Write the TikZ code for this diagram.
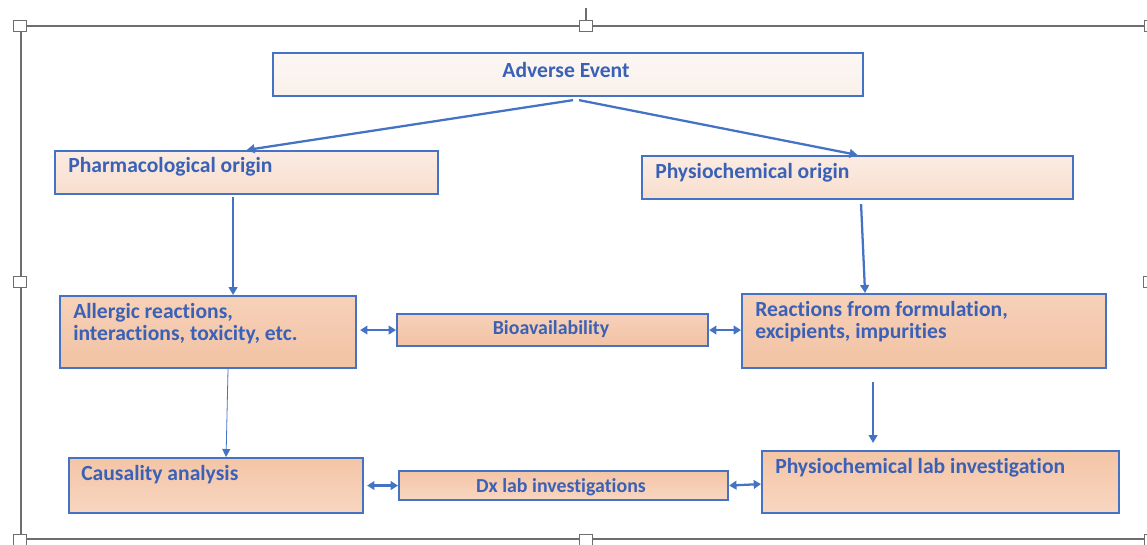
\documentclass[tikz,border=0pt]{standalone}
\usepackage{fontspec}
\setmainfont{Carlito}[Ligatures=NoCommon]
\usetikzlibrary{arrows.meta,calc}

\definecolor{edgeblue}{HTML}{4472C4}
\definecolor{inkblue}{HTML}{3A61B5}
\definecolor{framegray}{HTML}{6E6E6E}
\definecolor{paleTop}{HTML}{FCF7F4}
\definecolor{paleBot}{HTML}{FAF0EA}
\definecolor{lightTop}{HTML}{FBECE3}
\definecolor{lightBot}{HTML}{F8DECE}
\definecolor{peachTop}{HTML}{F6D1B9}
\definecolor{peachBot}{HTML}{F2C2A3}
\definecolor{peachA}{HTML}{F4C5A6}
\definecolor{peachB}{HTML}{F8D6C1}

\tikzset{
  box/.style={draw=edgeblue, line width=1.6pt, anchor=north west, inner sep=0pt},
  palebox/.style={box, top color=paleTop, bottom color=paleBot},
  lightbox/.style={box, top color=lightTop, bottom color=lightBot},
  peachbox/.style={box, top color=peachTop, bottom color=peachBot},
  lowbox/.style={box, top color=peachA, bottom color=peachB},
  txt/.style={text=inkblue, font=\fontsize{16.2}{16.5}\selectfont\bfseries, inner sep=0pt, align=left},
  smalltxt/.style={txt, font=\fontsize{14.9}{16}\selectfont\bfseries},
  arr/.style={draw=edgeblue, line width=1.7pt, -{Triangle[length=6pt,width=6.5pt]}},
  thinarr/.style={draw=edgeblue, line width=0.6pt, -{Triangle[length=6pt,width=6pt]}},
  dbl/.style={draw=edgeblue, line width=1.7pt, {Triangle[length=5.5pt,width=6.5pt]}-{Triangle[length=5.5pt,width=6.5pt]}},
  framebar/.style={draw=framegray, line width=0.9pt},
  handle/.style={draw=framegray, fill=white, line width=0.6pt, minimum width=10pt, minimum height=8.5pt, inner sep=0pt}
}

\begin{document}
\begin{tikzpicture}[x=0.75pt, y=-0.75pt]
\useasboundingbox (0,0) rectangle (1147,544);
\fill[white] (0,0) rectangle (1147,544);

% selection frame with its handles
\draw[framebar] (19,26) -- (1160,26);
\draw[framebar] (21,26) -- (21,539);
\draw[framebar] (19,539) -- (1160,539);
\draw[framebar] (586,8) -- (586,26);
\node[handle] (h1) at (20,26) {};
\node[handle] (h2) at (586,26) {};
\node[handle] (h3) at (1151,26) {};
\node[handle] (h4) at (20,282) {};
\node[handle] (h5) at (1150,282) {};
\node[handle] (h6) at (20,540) {};
\node[handle] (h7) at (586,540) {};
\node[handle] (h8) at (1151,540) {};

% boxes
\node[palebox,  minimum width=590*0.75pt, minimum height=43*0.75pt] (ae)    at (272,52)  {};
\node[lightbox, minimum width=383*0.75pt, minimum height=43*0.75pt] (pharm) at (54,150)  {};
\node[lightbox, minimum width=431*0.75pt, minimum height=43*0.75pt] (phys)  at (641,155) {};
\node[peachbox, minimum width=296*0.75pt, minimum height=72*0.75pt] (alg)   at (59,295)  {};
\node[peachbox, minimum width=311*0.75pt, minimum height=32*0.75pt] (bio)   at (396,313) {};
\node[peachbox, minimum width=364*0.75pt, minimum height=74*0.75pt] (react) at (741,293) {};
\node[lowbox,   minimum width=294*0.75pt, minimum height=55*0.75pt] (caus)  at (68,457)  {};
\node[lowbox,   minimum width=329*0.75pt, minimum height=29*0.75pt] (dx)    at (398,470) {};
\node[lowbox,   minimum width=357*0.75pt, minimum height=62*0.75pt] (plab)  at (761,450) {};

% labels
\node[txt] (ae-t) at (566,70) {Adverse Event};
\node[txt, anchor=west] (pharm-t) at (68,167) {Pharmacological origin};
\node[txt, anchor=west] (phys-t) at (655,173) {Physiochemical origin};
\node[txt, anchor=west] (alg-t) at (73,324) {Allergic reactions,\\interactions, toxicity, etc.};
\node[smalltxt] (bio-t) at (551,329) {Bioavailability};
\node[txt, anchor=west] (react-t) at (755,322) {Reactions from formulation,\\excipients, impurities};
\node[txt, anchor=west] (caus-t) at (81,475) {Causality analysis};
\node[smalltxt] (dx-t) at (561,487) {Dx lab investigations};
\node[txt, anchor=west] (plab-t) at (775,468) {Physiochemical lab investigation};

% connectors
\coordinate (ae-l) at ($(ae.south)+(5,3)$);
\coordinate (ae-r) at ($(ae.south)+(11,3)$);
\draw[arr] (ae-l) -- (pharm.north);
\draw[arr] (ae-r) -- (phys.north);
\draw[arr] ($(pharm.south)+(-13.5,2)$) -- ($(alg.north)+(25,0)$);
\draw[arr] ($(phys.south)+(3.5,4)$) -- ($(react.north)+(-59,0)$);
\draw[thinarr] ($(alg.south)+(20,-2)$) -- ($(caus.north)+(10,0)$);
\coordinate (down-a) at ($(react.south)+(-51,13)$);
\coordinate (down-b) at ($(plab.north)+(-67.5,-7)$);
\draw[arr] (down-a) -- (down-b);
\draw[dbl] ($(alg.east |- bio.west)+(3,0)$) -- (bio.west);
\draw[dbl] (bio.east) -- (react.west |- bio.east);
\draw[dbl] ($(caus.east |- dx.west)+(3,0)$) -- (dx.west);
\draw[dbl] (dx.east) -- ($(plab.west |- dx.east)+(0,-1.5)$);
\end{tikzpicture}
\end{document}
